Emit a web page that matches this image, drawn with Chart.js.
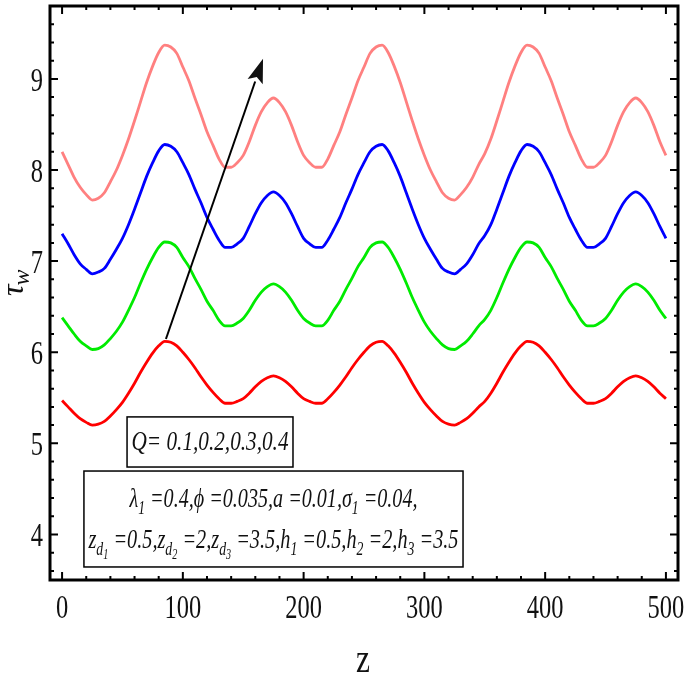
<!DOCTYPE html>
<html>
<head>
<meta charset="utf-8">
<script src="https://cdn.jsdelivr.net/npm/chart.js@4.4.0/dist/chart.umd.min.js"></script>
<style>
  html, body { margin: 0; padding: 0; background: #fff; }
</style>
</head>
<body>
<canvas id="myChart" width="685" height="680"></canvas>
<script>
// z positions (every 5 units)
var zValues = [0,5,10,15,20,25,30,35,40,45,50,55,60,65,70,75,80,85,90,95,
    100,105,110,115,120,125,130,135,140,145,150,155,160,165,170,175,180,185,190,195,
    200,205,210,215,220,225,230,235,240,245,250,255,260,265,270,275,280,285,290,295,
    300,305,310,315,320,325,330,335,340,345,350,355,360,365,370,375,380,385,390,395,
    400,405,410,415,420,425,430,435,440,445,450,455,460,465,470,475,480,485,490,495,500];

// wall shear stress
var tauQ1 = [5.47,5.40,5.33,5.27,5.23,5.20,5.21,5.24,5.30,5.37,5.45,5.55,5.66,5.78,5.89,5.99,6.07,6.12,6.11,6.07,
    6.00,5.92,5.83,5.73,5.64,5.56,5.49,5.44,5.44,5.46,5.49,5.55,5.62,5.68,5.72,5.74,
    5.72,5.68,5.62,5.55,5.49,5.46,5.44,5.44,5.49,5.56,5.64,5.73,5.83,5.92,6.00,6.07,6.11,6.12,6.07,5.99,5.89,5.78,5.66,5.55,
    5.45,5.37,5.30,5.24,5.21,5.20,5.23,5.27,5.33,5.40,5.46,
    5.55,5.66,5.78,5.89,5.99,6.07,6.12,6.11,6.07,6.00,5.92,5.83,5.73,5.64,5.56,5.49,5.44,5.44,5.46,5.49,5.55,5.62,5.68,5.72,5.74,
    5.72,5.68,5.62,5.55,5.49];
var tauQ2 = [6.38,6.29,6.20,6.12,6.07,6.03,6.04,6.08,6.15,6.23,6.33,6.46,6.60,6.76,6.91,7.04,7.15,7.21,7.20,7.15,
    7.04,6.94,6.81,6.69,6.56,6.46,6.35,6.29,6.29,6.32,6.37,6.46,6.57,6.66,6.72,6.75,
    6.72,6.66,6.57,6.46,6.37,6.32,6.29,6.29,6.35,6.46,6.56,6.69,6.81,6.94,7.04,7.15,7.20,7.21,7.15,7.04,6.91,6.76,6.60,6.46,
    6.33,6.23,6.15,6.08,6.04,6.03,6.07,6.12,6.20,6.29,6.36,
    6.46,6.60,6.76,6.91,7.04,7.15,7.21,7.20,7.15,7.04,6.94,6.81,6.69,6.56,6.46,6.35,6.29,6.29,6.32,6.37,6.46,6.57,6.66,6.72,6.75,
    6.72,6.66,6.57,6.46,6.37];
var tauQ3 = [7.30,7.19,7.07,6.97,6.91,6.86,6.88,6.92,7.02,7.13,7.25,7.40,7.57,7.75,7.93,8.08,8.21,8.28,8.26,8.20,
    8.08,7.95,7.79,7.64,7.48,7.35,7.23,7.15,7.15,7.19,7.25,7.38,7.52,7.64,7.72,7.76,
    7.72,7.64,7.52,7.38,7.25,7.19,7.15,7.15,7.23,7.35,7.48,7.64,7.79,7.95,8.08,8.20,8.26,8.28,8.21,8.08,7.93,7.75,7.57,7.40,
    7.25,7.13,7.02,6.92,6.88,6.86,6.91,6.97,7.07,7.19,7.28,
    7.40,7.57,7.75,7.93,8.08,8.21,8.28,8.26,8.20,8.08,7.95,7.79,7.64,7.48,7.35,7.23,7.15,7.15,7.19,7.25,7.38,7.52,7.64,7.72,7.76,
    7.72,7.64,7.52,7.38,7.25];
var tauQ4 = [8.20,8.06,7.92,7.81,7.73,7.67,7.69,7.75,7.87,8.00,8.16,8.34,8.54,8.75,8.96,9.14,9.29,9.37,9.35,9.28,
    9.13,8.98,8.79,8.61,8.42,8.27,8.12,8.03,8.03,8.08,8.16,8.31,8.49,8.64,8.74,8.79,
    8.74,8.64,8.49,8.31,8.16,8.08,8.03,8.03,8.12,8.27,8.42,8.61,8.79,8.98,9.13,9.28,9.35,9.37,9.29,9.14,8.96,8.75,8.54,8.34,
    8.16,8.00,7.87,7.75,7.69,7.67,7.73,7.81,7.92,8.06,8.18,
    8.34,8.54,8.75,8.96,9.14,9.29,9.37,9.35,9.28,9.13,8.98,8.79,8.61,8.42,8.27,8.12,8.03,8.03,8.08,8.16,8.31,8.49,8.64,8.74,8.79,
    8.74,8.64,8.49,8.31,8.16];

var seriesNames = ['Q=0.1', 'Q=0.2', 'Q=0.3', 'Q=0.4'];
var xTickValues = [0, 100, 200, 300, 400, 500];
var yTickValues = [4, 5, 6, 7, 8, 9];

function toPoints(ys) {
    return zValues.map(function (z, i) { return { x: z, y: ys[i] }; });
}

var serif = '"Liberation Serif", "DejaVu Serif", serif';

// rich text: [text, level] with level 0 normal, 1 subscript, 2 sub-subscript
function drawRich(ctx, segs, cx, baseY, targetW, size) {
    var sizes = [size, size * 0.68, size * 0.5];
    var offs = [0, size * 0.24, size * 0.4];
    var widths = [], total = 0;
    segs.forEach(function (s) {
        ctx.font = 'italic ' + sizes[s[1]] + 'px ' + serif;
        var w = ctx.measureText(s[0]).width;
        widths.push(w);
        total += w;
    });
    var k = targetW / total;
    ctx.save();
    ctx.translate(cx - targetW / 2, baseY);
    ctx.scale(k, 1);
    var x = 0;
    segs.forEach(function (s, i) {
        ctx.font = 'italic ' + sizes[s[1]] + 'px ' + serif;
        ctx.fillText(s[0], x, offs[s[1]]);
        x += widths[i];
    });
    ctx.restore();
}

var framePlugin = {
    id: 'frame',
    afterDraw: function (chart) {
        var ctx = chart.ctx;
        var a = chart.chartArea;
        var xs = chart.scales.x, ys = chart.scales.y;
        ctx.save();
        ctx.strokeStyle = '#000';
        ctx.fillStyle = '#000';

        // ticks (inward, all four sides)
        ctx.lineWidth = 2;
        ctx.beginPath();
        for (var v = 0; v <= 500; v += 20) {
            var px = xs.getPixelForValue(v);
            var len = (v % 100 === 0) ? 8 : 4;
            ctx.moveTo(px, a.bottom); ctx.lineTo(px, a.bottom - len);
            ctx.moveTo(px, a.top); ctx.lineTo(px, a.top + len);
        }
        for (var j = 18; j <= 49; j++) {
            var yv = j / 5;
            var py = ys.getPixelForValue(yv);
            var l2 = (j % 5 === 0) ? 8 : 4;
            ctx.moveTo(a.left, py); ctx.lineTo(a.left + l2, py);
            ctx.moveTo(a.right, py); ctx.lineTo(a.right - l2, py);
        }
        ctx.stroke();

        // frame
        ctx.lineWidth = 3;
        ctx.strokeRect(a.left, a.top, a.right - a.left, a.bottom - a.top);

        // tick labels
        ctx.fillStyle = '#111';
        ctx.font = '34px ' + serif;
        ctx.textAlign = 'center';
        ctx.textBaseline = 'alphabetic';
        xTickValues.forEach(function (v) {
            ctx.save();
            ctx.translate(xs.getPixelForValue(v), 618);
            ctx.scale(0.72, 1);
            ctx.fillText(String(v), 0, 0);
            ctx.restore();
        });
        ctx.textAlign = 'right';
        yTickValues.forEach(function (v) {
            ctx.save();
            ctx.translate(43, ys.getPixelForValue(v) + 12);
            ctx.scale(0.72, 1);
            ctx.fillText(String(v), 0, 0);
            ctx.restore();
        });

        // axis titles
        ctx.textAlign = 'center';
        ctx.save();
        ctx.translate(363, 672);
        ctx.scale(0.75, 1);
        ctx.font = '42px ' + serif;
        ctx.fillText('z', 0, 0);
        ctx.restore();

        ctx.save();
        ctx.translate(23, 296);
        ctx.rotate(-Math.PI / 2);
        ctx.textAlign = 'left';
        ctx.font = 'italic 32px ' + serif;
        ctx.fillText('\u03C4', 0, 0);
        var tw = ctx.measureText('\u03C4').width;
        ctx.font = 'italic 24px ' + serif;
        ctx.fillText('w', tw - 1, 6);
        ctx.restore();

        // arrow
        var x0 = xs.getPixelForValue(86), y0 = ys.getPixelForValue(6.145);
        var x1 = xs.getPixelForValue(166.4), y1 = ys.getPixelForValue(9.22);
        var ang = Math.atan2(y1 - y0, x1 - x0);
        var hl = 24, hw = 8;
        ctx.lineWidth = 2;
        ctx.beginPath();
        ctx.moveTo(x0, y0);
        ctx.lineTo(x1 - hl * Math.cos(ang), y1 - hl * Math.sin(ang));
        ctx.stroke();
        ctx.beginPath();
        ctx.moveTo(x1, y1);
        ctx.lineTo(x1 - hl * Math.cos(ang) + hw * Math.sin(ang), y1 - hl * Math.sin(ang) - hw * Math.cos(ang));
        ctx.lineTo(x1 - hl * 0.8 * Math.cos(ang), y1 - hl * 0.8 * Math.sin(ang));
        ctx.lineTo(x1 - hl * Math.cos(ang) - hw * Math.sin(ang), y1 - hl * Math.sin(ang) + hw * Math.cos(ang));
        ctx.closePath();
        ctx.fill();

        // annotation boxes
        ctx.lineWidth = 1.5;
        ctx.textAlign = 'left';
        var b1l = xs.getPixelForValue(53.8), b1r = xs.getPixelForValue(191.2);
        var b1t = ys.getPixelForValue(5.29), b1b = ys.getPixelForValue(4.74);
        ctx.strokeRect(b1l, b1t, b1r - b1l, b1b - b1t);
        drawRich(ctx, [['Q= 0.1,0.2,0.3,0.4', 0]], (b1l + b1r) / 2, b1t + 33, 157, 28);

        var b2l = xs.getPixelForValue(18.1), b2r = xs.getPixelForValue(332);
        var b2t = ys.getPixelForValue(4.696), b2b = ys.getPixelForValue(3.643);
        ctx.strokeRect(b2l, b2t, b2r - b2l, b2b - b2t);
        var cx2 = (b2l + b2r) / 2;
        drawRich(ctx, [
            ['\u03BB', 0], ['1', 1], [' =0.4,\u03D5 =0.035,a =0.01,\u03C3', 0], ['1', 1], [' =0.04,', 0]
        ], cx2, b2t + 36, 288, 28);
        drawRich(ctx, [
            ['z', 0], ['d', 1], ['1', 2], [' =0.5,z', 0], ['d', 1], ['2', 2], [' =2,z', 0], ['d', 1], ['3', 2],
            [' =3.5,h', 0], ['1', 1], [' =0.5,h', 0], ['2', 1], [' =2,h', 0], ['3', 1], [' =3.5', 0]
        ], cx2, b2t + 77, 370, 28);

        ctx.restore();
    }
};

var ctx = document.getElementById('myChart').getContext('2d');
var myChart = new Chart(ctx, {
    type: 'line',
    data: {
        datasets: [
            { label: seriesNames[0], data: toPoints(tauQ1), borderColor: 'rgb(255,0,0)' },
            { label: seriesNames[1], data: toPoints(tauQ2), borderColor: 'rgb(0,235,0)' },
            { label: seriesNames[2], data: toPoints(tauQ3), borderColor: 'rgb(0,0,255)' },
            { label: seriesNames[3], data: toPoints(tauQ4), borderColor: 'rgb(255,128,128)' }
        ]
    },
    options: {
        responsive: false,
        animation: false,
        devicePixelRatio: 1,
        elements: {
            line: { borderWidth: 2.8, cubicInterpolationMode: 'monotone', fill: false },
            point: { radius: 0, hoverRadius: 0 }
        },
        layout: { padding: { left: 0, right: 7, top: 6, bottom: 0 } },
        scales: {
            x: {
                type: 'linear',
                min: -10,
                max: 510,
                grid: { display: false, drawTicks: false },
                border: { display: false },
                ticks: { display: false },
                afterFit: function (scale) { scale.height = 100; }
            },
            y: {
                type: 'linear',
                min: 3.5,
                max: 9.8,
                grid: { display: false, drawTicks: false },
                border: { display: false },
                ticks: { display: false },
                afterFit: function (scale) { scale.width = 50; }
            }
        },
        plugins: {
            legend: { display: false },
            tooltip: { enabled: false }
        }
    },
    plugins: [framePlugin]
});
</script>
</body>
</html>
